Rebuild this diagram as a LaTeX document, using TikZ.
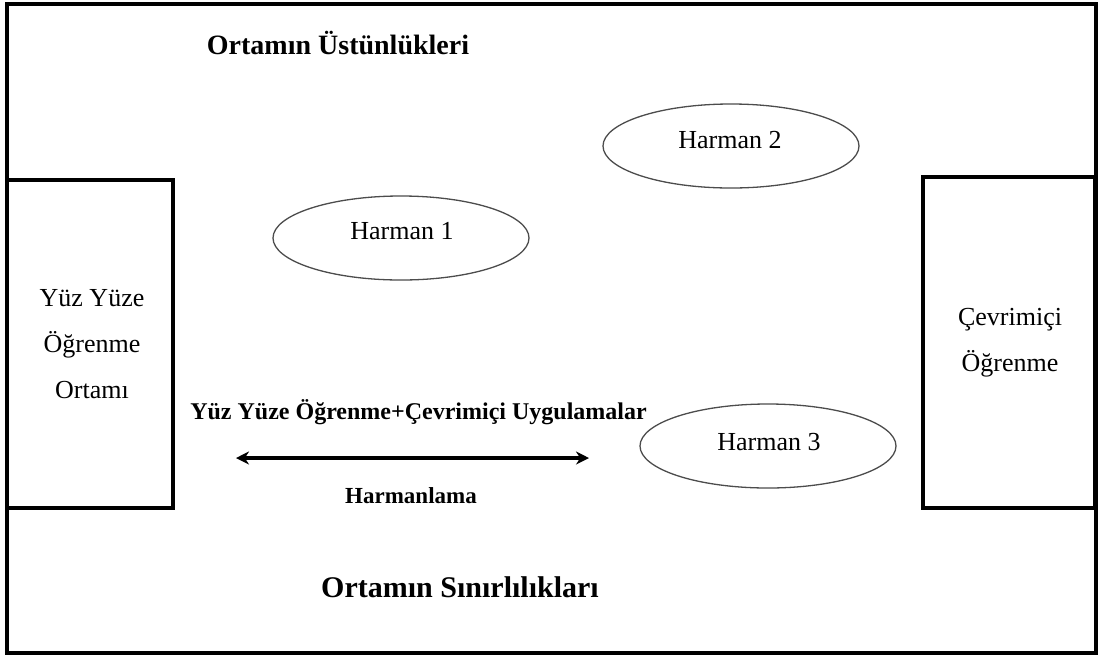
\documentclass[tikz,border=0pt]{standalone}
\usepackage{fontspec}
\setmainfont{Liberation Serif}
\usetikzlibrary{shapes.geometric,arrows.meta,positioning}

\tikzset{
  frameline/.style={draw=black, line width=3.8pt},
  sidebox/.style={rectangle, draw=black, line width=4pt, inner sep=0pt},
  blend/.style={ellipse, draw=black!70, line width=1.3pt, minimum width=256pt, minimum height=84pt, inner sep=0pt},
  plain/.style={font=\fontsize{26}{30}\selectfont, inner sep=0pt, anchor=center},
  heading/.style={font=\fontsize{28}{32}\selectfont\bfseries, inner sep=0pt, anchor=center},
  subheading/.style={font=\fontsize{24}{28}\selectfont\bfseries, inner sep=0pt, anchor=center},
  boxtext/.style={font=\fontsize{26}{46}\selectfont, align=center, inner sep=0pt},
  twoway/.style={{Stealth[length=13pt,width=13pt]}-{Stealth[length=13pt,width=13pt]}, line width=3.4pt}
}

\begin{document}
\begin{tikzpicture}[x=1pt, y=-1pt]
  \useasboundingbox (0,0) rectangle (1100,657);

  % outer frame
  \node[rectangle, frameline, minimum width=1089pt, minimum height=649pt, inner sep=0pt] (frame) at (551.5,328.5) {};

  % the two learning environments
  \node[sidebox, minimum width=166pt, minimum height=328pt] (ftf) at (90,344) {};
  \node[sidebox, minimum width=172pt, minimum height=331pt] (online) at (1009,342.5) {};

  \node[boxtext] (ftftext) at (92,344) {Yüz Yüze\\Öğrenme\\Ortamı};
  \node[boxtext] (onlinetext) at (1010,343) {Çevrimiçi\\Öğrenme};

  % headings
  \node[heading] (adv) at (338,43) {Ortamın Üstünlükleri};
  \node[font=\fontsize{30}{34}\selectfont\bfseries, inner sep=0pt] (lim) at (460,587) {Ortamın Sınırlılıkları};
  \node[subheading] (mix) at (418.5,412) {Yüz Yüze Öğrenme+Çevrimiçi Uygulamalar};
  \node[font=\fontsize{23}{27}\selectfont\bfseries, inner sep=0pt] (blendlabel) at (411,496) {Harmanlama};

  % blends
  \node[blend] (h1) at (401,238) {};
  \node[blend] (h2) at (731,146) {};
  \node[blend] (h3) at (768,446) {};
  \node[plain] (h1text) at (402,231) {Harman 1};
  \node[plain] (h2text) at (730,140) {Harman 2};
  \node[plain] (h3text) at (769,442) {Harman 3};

  % blending axis
  \coordinate (axisleft) at (236,458);
  \coordinate (axisright) at (589,458);
  \draw[twoway] (axisleft) -- (axisright);
\end{tikzpicture}
\end{document}
